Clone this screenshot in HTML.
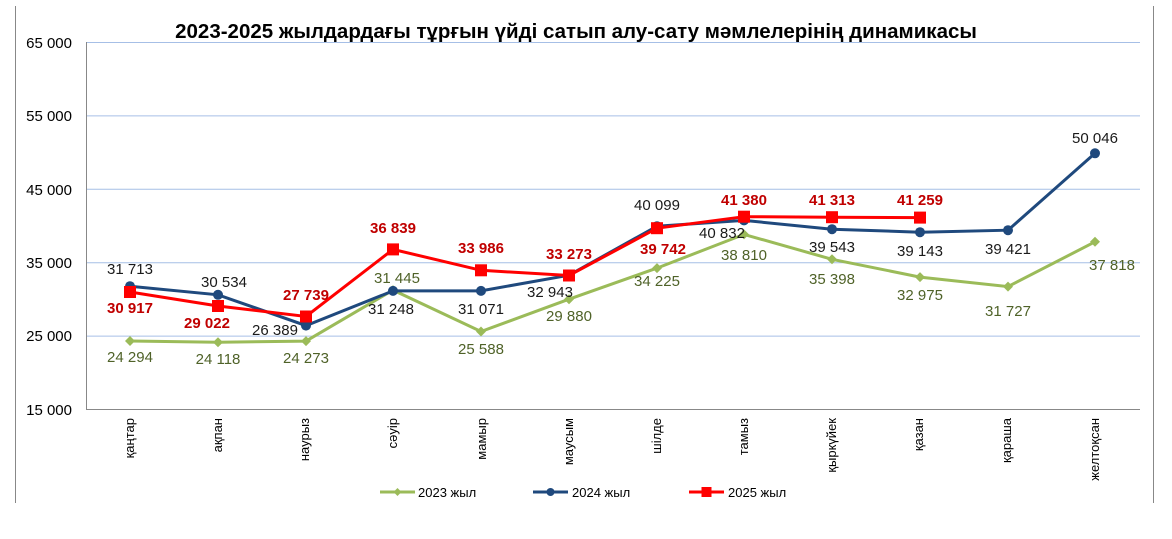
<!DOCTYPE html>
<html><head><meta charset="utf-8"><style>body{margin:0;background:#fff}svg{display:block;font-family:"Liberation Sans",Arial,sans-serif}</style></head><body>
<svg width="1172" height="539" viewBox="0 0 1172 539">
<line x1="15.5" y1="6" x2="15.5" y2="503" stroke="#888" stroke-width="1"/>
<line x1="1153.5" y1="6" x2="1153.5" y2="503" stroke="#888" stroke-width="1"/>
<text x="576" y="38" text-anchor="middle" font-size="20.5" font-weight="bold" fill="#000">2023-2025 жылдардағы тұрғын үйді сатып алу-сату мәмлелерінің динамикасы</text>
<g stroke="#a6bfe6" stroke-width="1">
<line x1="86" y1="42.5" x2="1140" y2="42.5"/><line x1="86" y1="115.9" x2="1140" y2="115.9"/><line x1="86" y1="189.3" x2="1140" y2="189.3"/><line x1="86" y1="262.7" x2="1140" y2="262.7"/><line x1="86" y1="336.1" x2="1140" y2="336.1"/>
</g>
<line x1="86.5" y1="42" x2="86.5" y2="409" stroke="#888"/>
<line x1="86" y1="409.5" x2="1140" y2="409.5" stroke="#888"/>
<g font-size="15" fill="#000" text-anchor="end">
<text x="72" y="48">65 000</text><text x="72" y="121">55 000</text><text x="72" y="195">45 000</text><text x="72" y="268">35 000</text><text x="72" y="341">25 000</text><text x="72" y="415">15 000</text>
</g>
<g font-size="13" fill="#000" text-anchor="end">
<text transform="translate(134,418) rotate(-90)">қаңтар</text>
<text transform="translate(222,418) rotate(-90)">ақпан</text>
<text transform="translate(309,418) rotate(-90)">наурыз</text>
<text transform="translate(397,418) rotate(-90)">сәуір</text>
<text transform="translate(486,418) rotate(-90)">мамыр</text>
<text transform="translate(573,418) rotate(-90)">маусым</text>
<text transform="translate(661,418) rotate(-90)">шілде</text>
<text transform="translate(748,418) rotate(-90)">тамыз</text>
<text transform="translate(836,418) rotate(-90)">қыркүйек</text>
<text transform="translate(923,418) rotate(-90)">қазан</text>
<text transform="translate(1011,418) rotate(-90)">қараша</text>
<text transform="translate(1099,418) rotate(-90)">желтоқсан</text>
</g>
<!-- 2023 -->
<polyline fill="none" stroke="#9bbb59" stroke-width="3" points="130,341.0 218,342.3 306,341.1 393,290.1 481,331.5 569,299.2 657,268.1 744,234.4 832,259.3 920,277.1 1008,286.6 1095,241.8"/>
<g fill="#9bbb59">
<path d="M130,336l5,5l-5,5l-5,-5z"/><path d="M218,337.3l5,5l-5,5l-5,-5z"/><path d="M306,336.1l5,5l-5,5l-5,-5z"/><path d="M393,285.1l5,5l-5,5l-5,-5z"/><path d="M481,326.5l5,5l-5,5l-5,-5z"/><path d="M569,294.2l5,5l-5,5l-5,-5z"/><path d="M657,263.1l5,5l-5,5l-5,-5z"/><path d="M744,229.4l5,5l-5,5l-5,-5z"/><path d="M832,254.3l5,5l-5,5l-5,-5z"/><path d="M920,272.1l5,5l-5,5l-5,-5z"/><path d="M1008,281.6l5,5l-5,5l-5,-5z"/><path d="M1095,236.8l5,5l-5,5l-5,-5z"/>
</g>
<g font-size="15" fill="#4f6228" text-anchor="middle">
<text x="130" y="362">24 294</text><text x="218" y="364">24 118</text><text x="306" y="363">24 273</text><text x="397" y="283">31 445</text><text x="481" y="354">25 588</text><text x="569" y="321">29 880</text><text x="657" y="286">34 225</text><text x="744" y="260">38 810</text><text x="832" y="284">35 398</text><text x="920" y="300">32 975</text><text x="1008" y="316">31 727</text><text x="1112" y="270">37 818</text>
</g>
<!-- 2024 -->
<polyline fill="none" stroke="#1f497d" stroke-width="3" points="130,286.2 218,294.8 306,325.6 393,290.9 481,290.9 569,275.2 657,226.2 744,220.4 832,229.2 920,232.2 1008,230.2 1095,153.3"/>
<g fill="#1f497d">
<circle cx="130" cy="286.2" r="5"/><circle cx="218" cy="294.8" r="5"/><circle cx="306" cy="325.6" r="5"/><circle cx="393" cy="290.9" r="5"/><circle cx="481" cy="290.9" r="5"/><circle cx="569" cy="275.2" r="5"/><circle cx="657" cy="226.2" r="5"/><circle cx="744" cy="220.4" r="5"/><circle cx="832" cy="229.2" r="5"/><circle cx="920" cy="232.2" r="5"/><circle cx="1008" cy="230.2" r="5"/><circle cx="1095" cy="153.3" r="5"/>
</g>
<g font-size="15" fill="#1a1a1a" text-anchor="middle">
<text x="130" y="274">31 713</text><text x="224" y="287">30 534</text><text x="275" y="335">26 389</text><text x="391" y="314">31 248</text><text x="481" y="314">31 071</text><text x="550" y="297">32 943</text><text x="657" y="210">40 099</text><text x="722" y="238">40 832</text><text x="832" y="252">39 543</text><text x="920" y="256">39 143</text><text x="1008" y="254">39 421</text><text x="1095" y="143">50 046</text>
</g>
<!-- 2025 -->
<polyline fill="none" stroke="#ff0000" stroke-width="3" points="130,292.0 218,306.0 306,316.5 393,249.4 481,270.3 569,275.5 657,228.2 744,216.7 832,217.2 920,217.6"/>
<g fill="#ff0000">
<rect x="124" y="286" width="12" height="12"/><rect x="212" y="300" width="12" height="12"/><rect x="300" y="310.5" width="12" height="12"/><rect x="387" y="243.4" width="12" height="12"/><rect x="475" y="264.3" width="12" height="12"/><rect x="563" y="269.5" width="12" height="12"/><rect x="651" y="222.2" width="12" height="12"/><rect x="738" y="210.7" width="12" height="12"/><rect x="826" y="211.2" width="12" height="12"/><rect x="914" y="211.6" width="12" height="12"/>
</g>
<g font-size="15" font-weight="bold" fill="#c00000" text-anchor="middle">
<text x="130" y="313">30 917</text><text x="207" y="328">29 022</text><text x="306" y="300">27 739</text><text x="393" y="233">36 839</text><text x="481" y="253">33 986</text><text x="569" y="259">33 273</text><text x="663" y="254">39 742</text><text x="744" y="205">41 380</text><text x="832" y="205">41 313</text><text x="920" y="205">41 259</text>
</g>
<!-- legend -->
<line x1="380" y1="492" x2="415" y2="492" stroke="#9bbb59" stroke-width="3"/><path d="M397.5,488l4,4l-4,4l-4,-4z" fill="#9bbb59"/>
<text x="418" y="497" font-size="13">2023 жыл</text>
<line x1="533" y1="492" x2="568" y2="492" stroke="#1f497d" stroke-width="3"/><circle cx="550.5" cy="492" r="4" fill="#1f497d"/>
<text x="572" y="497" font-size="13">2024 жыл</text>
<line x1="689" y1="492" x2="724" y2="492" stroke="#ff0000" stroke-width="3"/><rect x="701.5" y="487" width="10" height="10" fill="#ff0000"/>
<text x="728" y="497" font-size="13">2025 жыл</text>
</svg>
</body></html>
